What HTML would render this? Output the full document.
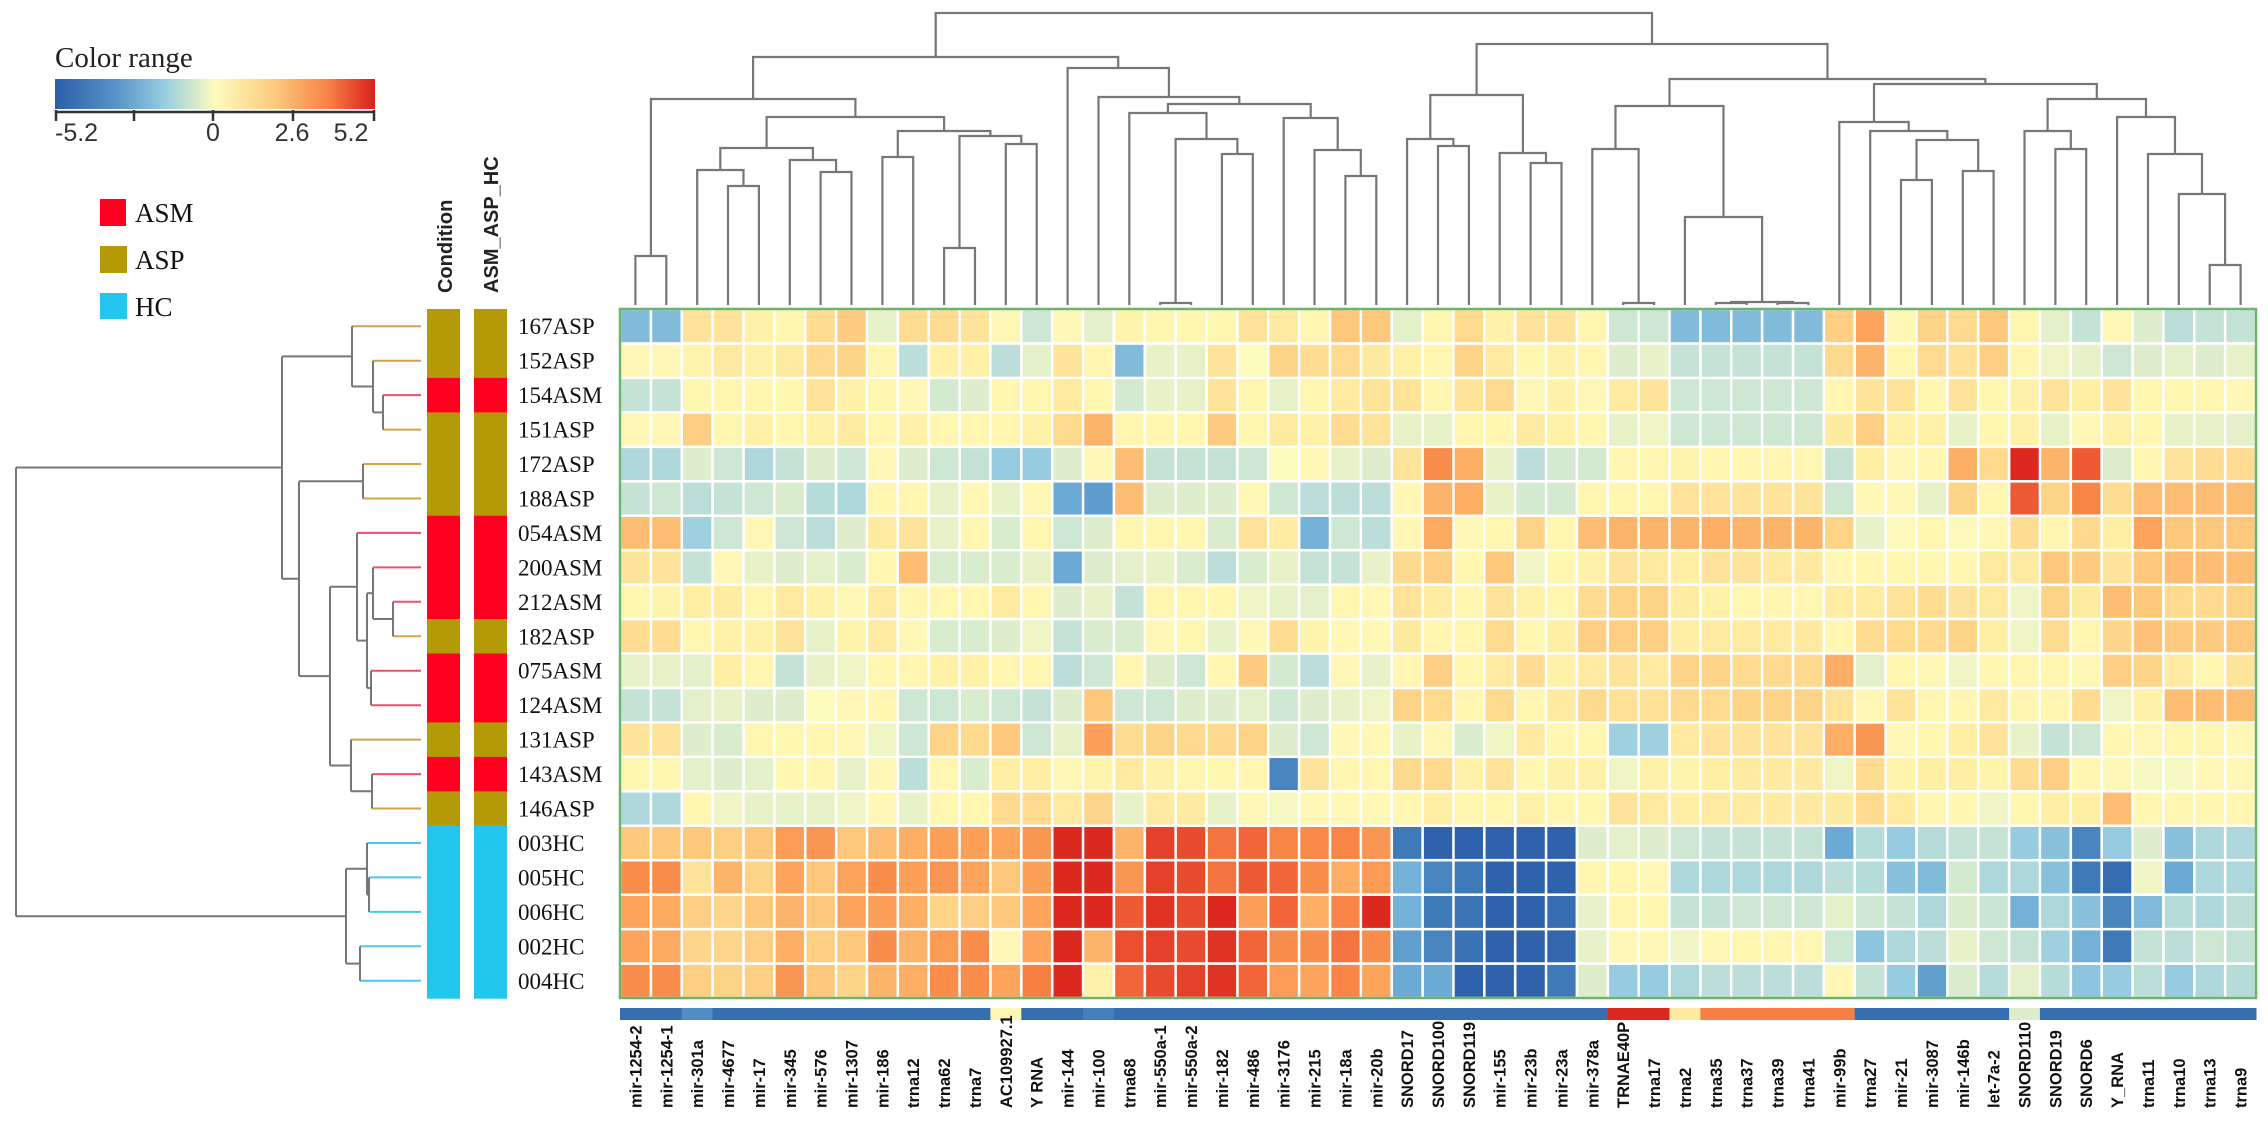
<!DOCTYPE html>
<html><head><meta charset="utf-8"><title>Heatmap</title>
<style>
html,body{margin:0;padding:0;background:#fff;}
svg{display:block;}
.serif{font-family:"Liberation Serif",serif;}
.sans{font-family:"Liberation Sans",sans-serif;}
</style></head>
<body>
<svg id="chart" width="2268" height="1140" viewBox="0 0 2268 1140" xmlns="http://www.w3.org/2000/svg">
  <defs>
    <linearGradient id="cgrad" x1="0" x2="1" y1="0" y2="0">
      <stop offset="0" stop-color="#2b5ea8"/>
      <stop offset="0.2" stop-color="#5a96c8"/>
      <stop offset="0.35" stop-color="#9ccfe0"/>
      <stop offset="0.5" stop-color="#fdfbbe"/>
      <stop offset="0.68" stop-color="#fdcc80"/>
      <stop offset="0.85" stop-color="#f88446"/>
      <stop offset="1" stop-color="#d81f1c"/>
    </linearGradient>
  </defs>
  <g>
    <text class="serif" x="55" y="67" font-size="29" fill="#222">Color range</text>
    <rect x="55" y="79" width="320" height="30" fill="url(#cgrad)"/>
    <line x1="55" y1="112" x2="375" y2="112" stroke="#333" stroke-width="2.5"/>
    <g stroke="#333" stroke-width="2.5">
      <line x1="56" y1="110" x2="56" y2="121"/><line x1="134" y1="110" x2="134" y2="121"/><line x1="213" y1="110" x2="213" y2="121"/><line x1="293" y1="110" x2="293" y2="121"/><line x1="374" y1="110" x2="374" y2="121"/>
    </g>
    <g class="sans" font-size="25" fill="#333">
      <text x="55" y="141">-5.2</text>
      <text x="213" y="141" text-anchor="middle">0</text>
      <text x="292" y="141" text-anchor="middle">2.6</text>
      <text x="351" y="141" text-anchor="middle">5.2</text>
    </g>
  </g>
  <g class="serif" font-size="27" fill="#111">
    <rect x="100" y="199" width="26" height="27" fill="#ff0022"/>
    <text x="135" y="222">ASM</text>
    <rect x="100" y="246" width="27" height="27" fill="#b59a08"/>
    <text x="135" y="269">ASP</text>
    <rect x="100" y="293" width="27" height="26" fill="#22c6ee"/>
    <text x="135" y="316">HC</text>
  </g>
  <text class="sans" font-weight="bold" font-size="20" transform="translate(452,293) rotate(-90)" fill="#222">Condition</text>
  <text class="sans" font-weight="bold" font-size="20" transform="translate(498,293) rotate(-90)" fill="#222">ASM_ASP_HC</text>
  <g id="annot"></g>
  <g id="rowlabels"></g>
  <g id="heat"></g>
  <rect x="620" y="309" width="1636" height="689" fill="none" stroke="#6cb46c" stroke-width="2.5"/>
  <g id="topdendro"></g>
  <g id="leftdendro"></g>
  <g id="colstrip"></g>
  <g id="collabels"></g>
</svg>
<script>
const columns = ["mir-1254-2","mir-1254-1","mir-301a","mir-4677","mir-17","mir-345","mir-576","mir-1307","mir-186","trna12","trna62","trna7","AC109927.1","Y RNA","mir-144","mir-100","trna68","mir-550a-1","mir-550a-2","mir-182","mir-486","mir-3176","mir-215","mir-18a","mir-20b","SNORD17","SNORD100","SNORD119","mir-155","mir-23b","mir-23a","mir-378a","TRNAE40P","trna17","trna2","trna35","trna37","trna39","trna41","mir-99b","trna27","mir-21","mir-3087","mir-146b","let-7a-2","SNORD110","SNORD19","SNORD6","Y_RNA","trna11","trna10","trna13","trna9"];
const rows = ["167ASP","152ASP","154ASM","151ASP","172ASP","188ASP","054ASM","200ASM","212ASM","182ASP","075ASM","124ASM","131ASP","143ASM","146ASP","003HC","005HC","006HC","002HC","004HC"];
const rowGroups = ["ASP","ASP","ASM","ASP","ASP","ASP","ASM","ASM","ASM","ASP","ASM","ASM","ASP","ASM","ASP","HC","HC","HC","HC","HC"];
const colStrip = [-4.5,-4.5,-3.6,-4.5,-4.5,-4.5,-4.5,-4.5,-4.5,-4.5,-4.5,-4.5,0.2,-4.5,-4.5,-3.9,-4.5,-4.5,-4.5,-4.5,-4.5,-4.5,-4.5,-4.5,-4.5,-4.5,-4.5,-4.5,-4.5,-4.5,-4.5,-4.5,5,5,0.8,3.3,3.3,3.3,3.3,3.3,-4.5,-4.5,-4.5,-4.5,-4.5,-0.5,-4.5,-4.5,-4.5,-4.5,-4.5,-4.5,-4.5];
const values = [
[-2.5,-2.5,1,1,0.5,0.3,1.2,1.7,-0.3,1.2,1.2,1,0.2,-0.8,0.2,-0.4,0.4,0.3,0.3,0.3,1,0.8,0.3,1.8,1.8,-0.4,0.3,1.3,0.5,1,1,0.3,-0.8,-0.8,-2.5,-2.5,-2.5,-2.5,-2.5,1.6,2.5,0.2,1.5,1.3,1.8,0.3,-0.4,-1,0.2,-0.5,-1.2,-1,-1],
[0.2,0.2,0.4,0.8,0.5,0.8,1.3,1.5,0.3,-1.2,0.5,0.5,-1.2,-0.4,1,0.3,-2.5,-0.3,-0.3,1,0,1.5,1.2,1.3,0.8,0.5,0.3,1.5,0.8,0.3,0.5,0.3,-0.5,-0.3,-1,-1,-1,-1,-1,1.3,2.2,0.3,1.3,1.1,1.6,0.3,-0.2,-0.3,-0.8,-0.5,-0.4,-0.5,-0.3],
[-1,-1,0.3,0.3,0.3,0.3,1,0.5,0.3,0.2,-0.7,-0.5,0.3,0.3,0.8,0.3,-0.7,-0.3,-0.3,1,0.3,-0.3,0.3,0.8,1,1,0.3,1,1.3,0.2,0.5,0.2,0.8,1,-0.8,-0.8,-0.8,-0.8,-0.8,0.3,1,1,0.3,1,0.3,0.5,1,0.6,1,0.3,0.3,0.3,0.2],
[0.2,0.2,1.6,0.3,0.5,0.3,0.5,0.8,0.3,0.5,0.3,0.3,0.3,0.5,1.3,2.2,0.3,0.3,0.3,1.7,0.3,0.8,0.5,1.2,1,-0.3,-0.3,0.3,0.3,0.8,0.5,0.3,-0.3,-0.2,-0.8,-0.8,-0.8,-0.8,-0.8,0.8,1.6,0.5,0.5,-0.3,0.3,0.5,-0.3,0.2,0.5,0.3,-0.3,-0.3,-0.4],
[-1.5,-1.5,-0.5,-0.8,-1.5,-1,-0.5,-0.8,0.2,-0.5,-0.8,-1,-2,-2,-0.5,0.2,2,-1,-1,-1,-0.8,0,0.2,-0.3,-0.5,1,3,2.3,-0.3,-1.2,-0.7,-0.7,0.3,0.3,0.4,0.3,0.3,0.3,0.3,-1,0.6,0.2,0.3,2.3,1.3,5,2.2,4,-0.5,0.3,1,1.2,1.2],
[-1,-0.8,-1.2,-1,-0.8,-0.6,-1.3,-1.5,0.3,0.3,-0.3,0.2,-0.3,0.2,-3,-3.3,2,-0.5,-0.5,-0.5,0.2,-0.8,-1.2,-1.2,-1.2,0.2,2.2,2.3,-0.3,-0.7,-0.7,0.3,0.3,0.3,1,1,1,1,1,-0.8,0.2,0.2,-0.3,1.5,0.3,4,1.5,3.2,1.2,2,2,2,2],
[2,2,-1.8,-0.8,0.2,-0.8,-1.2,-0.5,0.8,1,-0.3,0.3,-0.6,0.3,-0.8,-0.5,0.3,0.3,0.3,-0.6,1,0.7,-2.8,-0.8,-1.2,0.2,2.4,0.2,0.3,1.5,0.3,2,2.2,2.2,2.2,2.3,2.2,2.2,2.2,1.5,-0.3,0.1,0.3,0.1,0.2,1.2,0.3,1.3,0.6,2.5,1.8,1.8,1.8],
[1,1,-1,0.2,-0.3,-0.5,-0.4,-0.6,0.3,2,-0.6,-0.6,-0.6,-0.3,-3,-0.5,-0.4,-0.3,-0.6,-1.2,-0.6,-0.3,-1,-1,-0.3,1.3,1.6,0.3,1.8,-0.2,0.3,0.5,1,0.8,0.6,1,1,0.8,0.8,0.2,0.3,0.3,0.3,0.3,0.8,0.8,1.8,1.7,1,1.8,2,2,2],
[0.3,0.4,0.6,0.7,0.3,0.8,0.5,0.2,0.8,0.3,0.3,0.3,0.8,0.3,-0.5,-0.3,-1,0.3,0.3,0.3,-0.2,-0.3,-0.4,0.3,0.2,1,0.7,0.3,1,0.5,0.3,1.2,1.5,1.5,0.7,0.5,0.3,0.3,0.3,0.7,0.7,1,1.2,1,0.8,-0.2,1.5,0.8,2,1.8,1.3,1.3,1.5],
[1.2,1.2,0.3,0.5,0.5,1,-0.3,0.4,0.8,0.2,-0.6,-0.6,-0.5,-0.2,-1,-0.6,-0.6,0.2,0.3,-0.3,0.2,1.2,0.4,0.2,0.2,0.8,0.3,0.3,1.3,0.3,0.6,1.6,1.6,1.6,0.6,0.8,0.8,0.8,0.8,0.3,1.2,1.3,1.3,1.5,0.6,-0.2,1.2,0.3,1.4,1.9,1.7,1.7,1.8],
[-0.3,-0.3,-0.4,0.6,0.3,-1,-0.3,-0.2,0.3,0.3,0.5,0.5,0.3,0.3,-1.2,-0.8,0.3,-0.5,-0.8,0.3,1.7,-0.7,-1.2,0.2,-0.3,0.3,1.6,0.3,0.8,1.2,0.5,0.8,1,0.8,1.5,1.5,1.3,1.3,1.3,2.3,-0.4,0.3,0.2,-0.2,0.3,0.3,0.3,0.2,1.6,1.5,0.8,0.3,1],
[-1,-1,-0.4,-0.3,-0.5,-0.5,0,0.2,0.3,-0.8,-0.8,-0.6,-0.8,-1,-0.5,1.8,-0.8,-0.8,-0.5,-0.5,-0.4,-0.8,-0.5,-0.3,-0.2,1.5,1.3,0.3,1.3,0.3,0.8,1.3,1.1,1.1,1.3,1.3,1.5,1.5,1.5,1,0.2,1,0.3,0.3,0.8,0.3,0.3,1.2,-0.2,0.5,2,2,2],
[1,1,-0.5,-0.6,0.3,0.3,0.3,0.2,-0.2,-0.8,1.5,1.3,1.8,-0.8,-0.3,2.6,1.2,1.5,1.3,1.3,1.5,-0.5,-0.8,0.2,0.2,-0.3,0.2,-0.6,-0.2,0.8,0.3,0.3,-1.8,-1.8,0.8,1,1,1,1,2.3,2.8,0.2,0.3,0.6,1,-0.3,-1,-0.8,0.3,0.2,0.3,0.3,0.2],
[0.3,0.3,-0.4,-0.5,-0.4,0.3,0.3,-0.3,0.2,-1.2,0.3,-0.6,0.6,0.6,0.2,0.4,0.8,0.5,0.3,0.3,0.3,-3.8,1,0.3,0.3,1.3,1.3,0.5,1,0.3,0.5,0.5,-0.2,0.5,0.4,0.6,0.8,0.8,0.8,-0.2,1.2,0.4,0.6,0.6,0.4,1.2,1.6,0.3,0.2,-0.1,-0.1,0.2,0.2],
[-1.5,-1.5,0.3,-0.2,-0.3,-0.3,-0.3,-0.2,0.2,-0.3,0.3,0.3,1.3,1.3,0.8,1.4,-0.3,0.8,0.8,-0.3,0.2,-0.1,0.2,0.2,0.2,0.3,0.6,0.3,0.3,0.5,0.3,0.3,1,0.8,0.6,0.8,0.8,0.8,0.8,0.8,1.3,0.8,0.3,0.3,-0.2,0.3,0.6,0.6,2,0.3,0.3,0.3,0.3],
[1.8,1.8,1.8,1.6,1.8,2.7,2.8,1.8,2,2.3,2.6,2.6,2.5,2.8,5,5,2.2,4.5,4.3,3.5,3.8,3.2,3.1,3.2,2.8,-4,-5,-5,-5,-5,-5,-0.5,-0.4,-0.5,-0.8,-1,-1,-1,-1,-3,-1.3,-2,-1.3,-1,-1,-2,-2.3,-3.8,-2,-0.5,-2.3,-1.5,-1.5],
[3,3,1,2.2,1.5,2.5,1.8,2.5,3,2.6,2.8,2.5,1.8,2.6,5,5,2.8,4.5,4.3,3.5,4,3.8,3,2.3,2.7,-2.8,-3.8,-4,-5,-5,-5,0.3,0.3,0.2,-1.5,-1.5,-1.5,-1.5,-1.5,-1.2,-1.3,-2.3,-2.5,-0.7,-1.5,-1.5,-2.3,-4,-4.5,-0.2,-3,-1.5,-1.5],
[2.5,2.4,1.6,1.4,1.8,2.2,1.8,2.5,2.6,2.3,1.5,1.6,1.8,2.5,5,5,4,4.8,4.3,5,2.6,3.8,2.3,3.2,5,-2.8,-4,-4.2,-5,-5,-4.5,-0.3,0.3,0.3,-1,-1,-0.8,-0.8,-0.8,-0.4,-0.8,-1,-1.5,-0.6,-0.9,-2.8,-1.5,-2.3,-3.8,-2.5,-1.3,-1.5,-1.2],
[2.5,2.4,1.4,1.4,1.6,2.3,1.6,1.8,3,2.2,2.7,3,0.2,2.5,5,2.2,4.2,4.5,4.3,4.8,3.8,3,3,3.5,3,-3.2,-3.8,-4.3,-5,-5,-4.8,-0.3,0.2,0.2,-0.2,0.2,0.3,0.3,0.3,-0.8,-2.2,-1.5,-1.2,-0.3,-0.8,-1,-1.8,-2.8,-4,-1,-1.2,-0.8,-1],
[3,3,1.6,1.5,1.6,2.8,1.8,1.5,2.2,2.3,3,3,2.5,3.3,5,0.5,3.8,4.3,4.5,4.8,3.8,2.7,2.5,3.2,2.5,-3,-3,-5,-5,-5,-4,-0.5,-2,-2,-1.5,-1.2,-1.2,-1.2,-1.2,0.2,-1,-2,-3.2,-0.6,-1.3,-0.4,-1.3,-2.2,-2,-1.2,-2,-1.5,-1.3]
];
// column dendrogram: [left, right, mergeHeight]
const colTree = [[[[0,1,49],[[[2,[3,4,119],135],[5,[6,7,133],145],157],[[8,9,148],[[10,11,57],[12,13,161],169],174],188],206],[14,[15,[[16,[[17,18,2],[19,20,151],166],192],[21,[22,[23,24,129],155],187],201],208],237],248],[[[25,[26,27,159],166],[28,[29,30,142],152],210],[[[31,[32,33,2],156],[34,[[35,36,2],[37,38,2],3],88],199],[[39,[40,[[41,42,125],[43,44,134],165],174],183],[[45,[46,47,156],174],[48,[49,[50,[51,52,40],111],151],188],206],221],226],261],292];
// row dendrogram
const rowTree = [[[0,[1,[2,3,38],48],69],[[4,5,58],[[6,[[7,[8,9,28],48],[10,11,50],54],64],[12,[13,14,49],70],91],122],139],[[15,[16,17,52],54],[18,19,61],75],405];

const NS = "http://www.w3.org/2000/svg";
const X0 = 620, Y0 = 309, CW = 1636/53, RH = 689/20;
const xScale = c => X0 + CW * c;
const yScale = r => Y0 + RH * r;
const stops = [[-5.2,[43,94,168]],[-4,[63,122,184]],[-3,[106,170,212]],[-2,[150,203,224]],[-1,[196,227,214]],[-0.3,[232,242,200]],[0,[253,251,190]],[0.5,[255,242,168]],[1,[254,228,154]],[1.7,[253,204,128]],[2.5,[252,164,92]],[3.2,[248,132,70]],[4,[238,90,52]],[5.2,[216,31,28]]];
function colorOf(v){
  v=Math.max(-5.2,Math.min(5.2,v));
  for(let i=0;i<stops.length-1;i++){
    const [a,ca]=stops[i],[b,cb]=stops[i+1];
    if(v<=b){const t=(v-a)/(b-a);return "rgb("+ca.map((c,k)=>Math.round(c+(cb[k]-c)*t)).join(",")+")";}
  }
  return "rgb(216,31,28)";
}
function mk(tag, attrs, parent){const e=document.createElementNS(NS,tag);for(const k in attrs)e.setAttribute(k,attrs[k]);parent.appendChild(e);return e;}

const heat=document.getElementById("heat");
values.forEach((row,r)=>row.forEach((v,c)=>{
  const el=mk("rect",{x:(xScale(c)+1.3).toFixed(1),y:(yScale(r)+1.3).toFixed(1),width:(CW-2.6).toFixed(1),height:(RH-2.6).toFixed(1),fill:colorOf(v)},heat);
  
  
}));

const groupColor={ASM:"#ff0022",ASP:"#b59a08",HC:"#22c6ee"};
const leafColor={ASM:"#f0506a",ASP:"#d0a448",HC:"#48c8f0"};
const annot=document.getElementById("annot");
rowGroups.forEach((g,r)=>{
  [427,474].forEach((x,i)=>{
    const el=mk("rect",{x:x,y:yScale(r).toFixed(1),width:33,height:(RH+0.6).toFixed(1),fill:groupColor[g]},annot);
    
    
  });
});
const rl=document.getElementById("rowlabels");
rows.forEach((n,r)=>{
  const t=mk("text",{x:518,y:(yScale(r)+RH/2+8).toFixed(1),"font-size":"23","class":"serif",fill:"#111"},rl);
  t.textContent=n;
  
  
});

const td=document.getElementById("topdendro");
function drawCol(node){
  if(typeof node==="number") return {x:xScale(node)+CW/2,y:305};
  const a=drawCol(node[0]),b=drawCol(node[1]);const y=305-node[2];
  const p=mk("path",{d:`M${a.x.toFixed(1)},${a.y}V${y}H${b.x.toFixed(1)}V${b.y}`,fill:"none",stroke:"#777","stroke-width":"2.2"},td);
  
  
  return {x:(a.x+b.x)/2,y:y};
}
drawCol(colTree);

const ld=document.getElementById("leftdendro");
function drawRow(node){
  if(typeof node==="number") return {y:yScale(node)+RH/2,x:421,leaf:node};
  const a=drawRow(node[0]),b=drawRow(node[1]);const x=421-node[2];
  [a,b].forEach(ch=>{
    const col=ch.leaf!==undefined?leafColor[rowGroups[ch.leaf]]:"#777";
    const p=mk("line",{x1:x,y1:ch.y.toFixed(1),x2:ch.x,y2:ch.y.toFixed(1),stroke:col,"stroke-width":"2"},ld);
    
    
  });
  const v=mk("line",{x1:x,y1:a.y.toFixed(1),x2:x,y2:b.y.toFixed(1),stroke:"#777","stroke-width":"2"},ld);
  
  
  return {x:x,y:(a.y+b.y)/2};
}
drawRow(rowTree);

const cs=document.getElementById("colstrip");
colStrip.forEach((v,c)=>{
  const el=mk("rect",{x:xScale(c).toFixed(1),y:1008,width:(CW+0.5).toFixed(1),height:12,fill:colorOf(v)},cs);
  
  
});
const cl=document.getElementById("collabels");
columns.forEach((n,c)=>{
  const x=xScale(c)+CW/2+6;
  const t=mk("text",{transform:`translate(${x.toFixed(1)},1108) rotate(-90)`,"font-size":"16.5","font-weight":"bold","class":"sans",fill:"#111"},cl);
  t.textContent=n;
  
  
});
</script>
</body></html>
